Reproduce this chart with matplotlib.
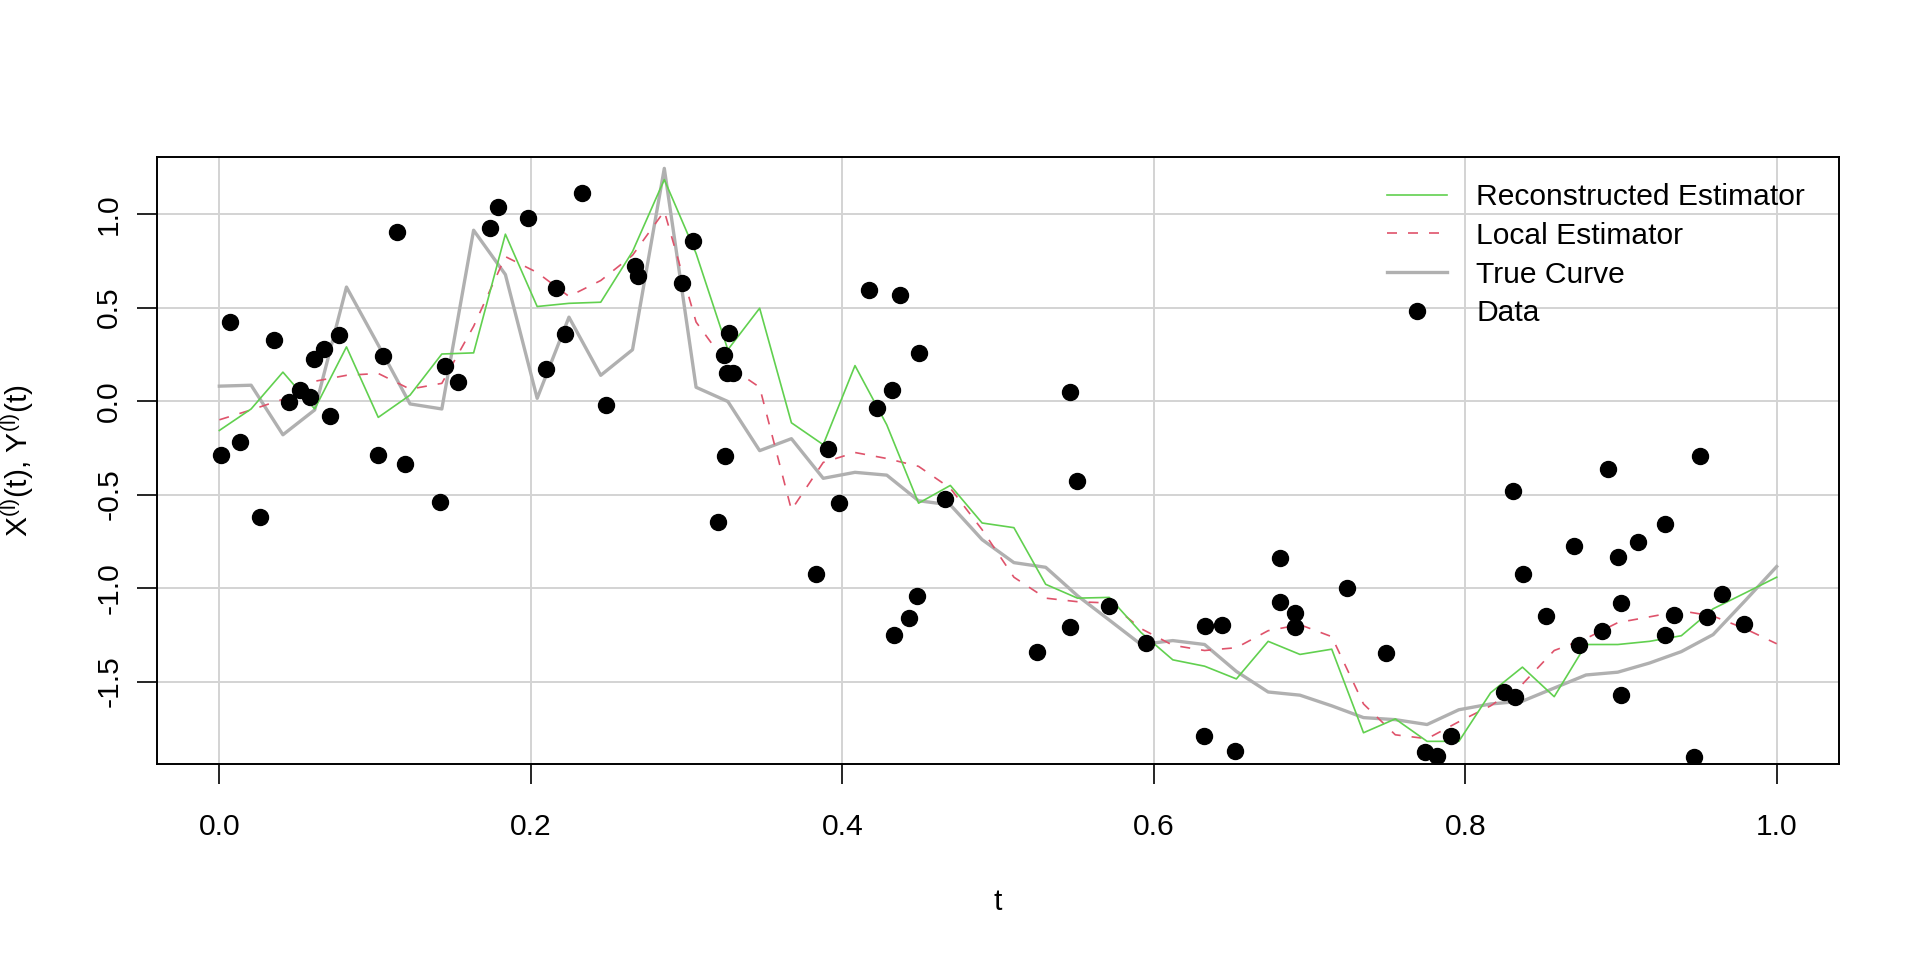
import numpy as np
import matplotlib
matplotlib.use("Agg")
import matplotlib.pyplot as plt

# *********************
# DATA
# *********************
# 50 point evaluation grid on [0, 1]
t_grid = np.linspace(0.0, 1.0, 50)

recon_est = [-0.157, -0.042, 0.155, -0.042, 0.29, -0.087, 0.032, 0.252, 0.258, 0.893,
             0.506, 0.523, 0.529, 0.80, 1.185, 0.79, 0.275, 0.497, -0.116, -0.233,
             0.19, -0.127, -0.546, -0.451, -0.652, -0.677, -0.98, -1.054, -1.05, -1.238,
             -1.384, -1.418, -1.486, -1.285, -1.355, -1.327, -1.774, -1.70, -1.82, -1.82,
             -1.56, -1.423, -1.581, -1.302, -1.302, -1.285, -1.255, -1.111, -1.027, -0.942]

local_est = [-0.10, -0.047, 0.01, 0.106, 0.138, 0.148, 0.064, 0.095, 0.40, 0.773,
             0.688, 0.56, 0.645, 0.78, 1.016, 0.423, 0.19, 0.074, -0.582, -0.328,
             -0.275, -0.307, -0.349, -0.466, -0.688, -0.942, -1.054, -1.073, -1.08, -1.217,
             -1.306, -1.334, -1.319, -1.228, -1.196, -1.26, -1.62, -1.785, -1.806, -1.715,
             -1.63, -1.514, -1.334, -1.27, -1.185, -1.154, -1.122, -1.15, -1.217, -1.298]

true_curve = [0.08, 0.085, -0.18, -0.047, 0.61, 0.30, -0.015, -0.042, 0.914, 0.677,
              0.015, 0.449, 0.138, 0.275, 1.245, 0.074, -0.002, -0.265, -0.201, -0.413,
              -0.381, -0.396, -0.533, -0.555, -0.741, -0.864, -0.889, -1.041, -1.171, -1.302,
              -1.281, -1.302, -1.446, -1.556, -1.573, -1.63, -1.693, -1.704, -1.73, -1.651,
              -1.62, -1.605, -1.535, -1.465, -1.45, -1.401, -1.34, -1.249, -1.069, -0.885]

data_t = [0.001, 0.007, 0.013, 0.026, 0.035, 0.045, 0.052, 0.058, 0.061, 0.067,
          0.071, 0.077, 0.102, 0.105, 0.114, 0.119, 0.142, 0.145, 0.153, 0.174,
          0.179, 0.198, 0.216, 0.210, 0.222, 0.233, 0.248, 0.267, 0.269, 0.304,
          0.297, 0.327, 0.324, 0.326, 0.330, 0.325, 0.320, 0.417, 0.437, 0.449,
          0.432, 0.422, 0.391, 0.398, 0.383, 0.466, 0.448, 0.443, 0.433, 0.546,
          0.551, 0.525, 0.546, 0.571, 0.595, 0.633, 0.644, 0.681, 0.681, 0.691,
          0.691, 0.632, 0.652, 0.724, 0.749, 0.774, 0.782, 0.791, 0.831, 0.837,
          0.870, 0.852, 0.825, 0.832, 0.873, 0.888, 0.892, 0.951, 0.928, 0.911,
          0.898, 0.900, 0.934, 0.928, 0.955, 0.965, 0.979, 0.900, 0.947]

data_y = [-0.29, 0.423, -0.22, -0.618, 0.326, -0.004, 0.057, 0.021, 0.226, 0.279,
          -0.08, 0.354, -0.286, 0.239, 0.904, -0.334, -0.54, 0.19, 0.10, 0.927,
          1.037, 0.98, 0.607, 0.174, 0.36, 1.113, -0.021, 0.724, 0.667, 0.859,
          0.631, 0.366, 0.246, 0.148, 0.148, -0.294, -0.644, 0.593, 0.567, 0.258,
          0.059, -0.036, -0.254, -0.546, -0.925, -0.525, -1.044, -1.16, -1.249, 0.049,
          -0.43, -1.344, -1.211, -1.094, -1.296, -1.202, -1.20, -0.84, -1.073, -1.133,
          -1.207, -1.793, -1.869, -1.001, -1.348, -1.878, -1.899, -1.793, -0.48, -0.925,
          -0.773, -1.149, -1.556, -1.583, -1.302, -1.228, -0.362, -0.292, -0.66, -0.751,
          -0.832, -1.08, -1.143, -1.253, -1.154, -1.031, -1.19, -1.573, -1.905]

x_ticks = [0.0, 0.2, 0.4, 0.6, 0.8, 1.0]
y_ticks = [-1.5, -1.0, -0.5, 0.0, 0.5, 1.0]

# *********************
# STYLE
# *********************
FS = 21.6
plt.rcParams['font.family'] = ['Liberation Sans', 'DejaVu Sans']
plt.rcParams['mathtext.fontset'] = 'custom'
plt.rcParams['mathtext.rm'] = 'Liberation Sans'
plt.rcParams['mathtext.default'] = 'regular'
plt.rcParams['axes.unicode_minus'] = False

fig = plt.figure(figsize=(19.2, 9.6), dpi=100)
ax = fig.add_axes([0.0818, 0.2042, 0.876, 0.6323])

ax.grid(True, color='#D3D3D3', lw=1.4, linestyle='-', zorder=0)
ax.set_axisbelow(True)

ax.plot(t_grid, true_curve, color='#B0B0B0', lw=2.4, label='True Curve', zorder=2)
ax.plot(t_grid, local_est, color='#DF536B', lw=1.2, dashes=[6, 6.6], label='Local Estimator', zorder=3)
ax.plot(t_grid, recon_est, color='#61D04F', lw=1.2, label='Reconstructed Estimator', zorder=4)
ax.plot(data_t, data_y, 'o', color='black', markersize=11.5, label='Data', zorder=5)

ax.set_xlim(-0.04, 1.04)
ax.set_ylim(-1.941, 1.306)
ax.set_xticks(x_ticks)
ax.set_xticklabels([f"{v:.1f}" for v in x_ticks])
ax.set_yticks(y_ticks)
ax.set_yticklabels([f"{v:.1f}" for v in y_ticks], rotation=90, va='center')
ax.tick_params(axis='both', labelsize=FS, length=14.4, width=1.2, direction='out')
ax.tick_params(axis='x', pad=21)
ax.tick_params(axis='y', pad=10)
for sp in ax.spines.values():
    sp.set_linewidth(1.4)

fig.text(0.5198, 0.0521, 't', fontsize=FS, ha='center', va='baseline')
fig.text(18 / 1920, 0.5203, r'X$^{(l)}$(t), Y$^{(l)}$(t)', fontsize=FS,
         rotation=90, ha='center', va='center')

handles, labels = ax.get_legend_handles_labels()
order = [2, 1, 0, 3]
ax.legend([handles[i] for i in order], [labels[i] for i in order],
          loc='upper left', bbox_to_anchor=(0.7313, 0.957), frameon=False,
          fontsize=FS, borderpad=0, borderaxespad=0, handlelength=2.0,
          handletextpad=0.97, labelspacing=0.36)

fig.savefig('out.png', dpi=100)
